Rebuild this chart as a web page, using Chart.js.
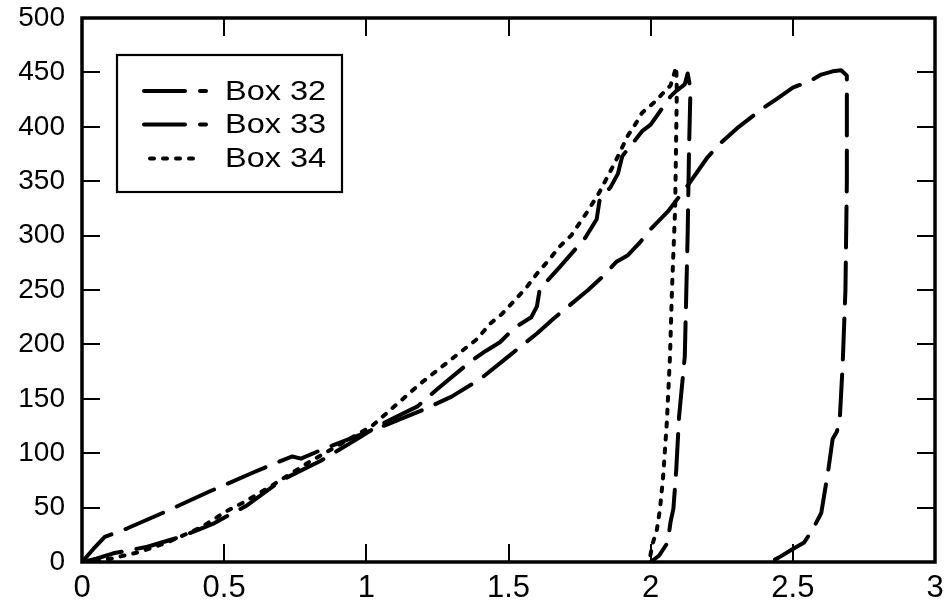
<!DOCTYPE html>
<html>
<head>
<meta charset="utf-8">
<script src="https://cdn.jsdelivr.net/npm/chart.js@4.4.1/dist/chart.umd.min.js"></script>
<style>
    html, body { margin: 0; padding: 0; background: #fff; }
    #wrap { width: 946px; height: 608px; }
</style>
</head>
<body>
<div id="wrap"><canvas id="chart" width="946" height="608"></canvas></div>
<script>
// Box 32 - long dash curve, peak near x = 2.68
const box32X = [0, 0.04, 0.08, 0.16, 0.3, 0.45, 0.6, 0.7, 0.74, 0.77, 0.85, 0.95, 1.05, 1.2, 1.3, 1.4, 1.5, 1.6, 1.66, 1.72,
    1.78, 1.83, 1.88, 1.92, 1.96, 2.0, 2.06, 2.13, 2.2, 2.25, 2.31, 2.36, 2.4, 2.44, 2.5, 2.56, 2.6, 2.64, 2.67, 2.69,
    2.69, 2.685, 2.675, 2.665, 2.655, 2.64, 2.625, 2.6, 2.57, 2.54, 2.5, 2.45, 2.42];
const box32Y = [0, 12, 23, 31, 47, 65, 82, 93, 97, 95, 104, 114, 124, 140, 152, 168, 189, 210, 224, 237,
    250, 262, 276, 282, 293, 306, 322, 346, 372, 386, 400, 410, 418, 425, 436, 442, 448, 451, 452, 447,
    350, 250, 180, 131, 120, 113, 85, 45, 30, 18, 12, 4, 0];

// Box 33 - long dash curve, peak near x = 2.13
const box33X = [0, 0.05, 0.11, 0.23, 0.345, 0.46, 0.58, 0.70, 0.84, 0.98, 1.04, 1.18, 1.25, 1.37, 1.42, 1.47, 1.52, 1.58, 1.60, 1.61,
    1.68, 1.72, 1.77, 1.81, 1.82, 1.86, 1.885, 1.90, 1.97, 2.0, 2.07, 2.09, 2.12, 2.13, 2.14,
    2.135, 2.13, 2.12, 2.10, 2.09, 2.08, 2.07, 2.06, 2.03, 2.0];
const box33Y = [0, 3, 8, 14, 23, 35, 52, 75, 93, 115, 125, 143, 159, 185, 194, 202, 215, 225, 235, 251,
    271, 283, 298, 315, 332, 345, 357, 373, 396, 402, 428, 433, 439, 449, 435,
    380, 300, 189, 134, 85, 49, 37, 18, 6, 0];

// Box 34 - dotted curve, peak near x = 2.09
const box34X = [0, 0.1, 0.2, 0.3, 0.42, 0.51, 0.57, 0.66, 0.8, 1.02, 1.19, 1.39, 1.435, 1.477, 1.52, 1.565, 1.60, 1.64, 1.68, 1.72,
    1.78, 1.82, 1.87, 1.92, 1.95, 1.97, 2.015, 2.04, 2.07, 2.09,
    2.092, 2.086, 2.075, 2.068, 2.057, 2.044, 2.033, 2.022, 2.005, 1.995];
const box34Y = [0, 3, 9, 18, 32, 47, 55, 69, 92, 125, 164, 205, 219, 228, 240, 253, 265, 277, 290, 300,
    323, 340, 365, 392, 404, 413, 423, 430, 438, 455,
    433, 324, 251, 189, 129, 79, 49, 30, 15, 0];

const seriesNames = ['Box 32', 'Box 33', 'Box 34'];
const xTickValues = [0, 0.5, 1, 1.5, 2, 2.5, 3];
const yTickValues = [0, 50, 100, 150, 200, 250, 300, 350, 400, 450, 500];

const FONT = 'Liberation Sans, Arial, sans-serif';

function toPoints(xs, ys) {
    return xs.map((x, i) => ({ x: x, y: ys[i] }));
}

// frame around the plot plus inward tick marks on all four sides
const frameAndTicks = {
    id: 'frameAndTicks',
    afterDraw(chart) {
        const ctx = chart.ctx;
        const a = chart.chartArea;
        const xs = chart.scales.x, ys = chart.scales.y;
        const len = 18;
        ctx.save();
        ctx.globalAlpha = 1;
        ctx.globalCompositeOperation = 'source-over';
        ctx.setLineDash([]);
        ctx.fillStyle = '#000';
        xTickValues.forEach(v => {
            const px = Math.round(xs.getPixelForValue(v));
            if (px <= a.left + 2 || px >= a.right - 2) return;
            ctx.fillRect(px - 1, a.bottom - len, 2, len);
            ctx.fillRect(px - 1, a.top, 2, len);
        });
        yTickValues.forEach(v => {
            const py = Math.round(ys.getPixelForValue(v));
            if (py <= a.top + 2 || py >= a.bottom - 2) return;
            ctx.fillRect(a.left, py - 1, len, 2);
            ctx.fillRect(a.right - len, py - 1, len, 2);
        });
        ctx.strokeStyle = '#000';
        ctx.lineWidth = 3.5;
        ctx.strokeRect(a.left, a.top, a.right - a.left, a.bottom - a.top);
        ctx.restore();
    }
};

// boxed legend sitting inside the plot, top left
const boxLegend = {
    id: 'boxLegend',
    afterDraw(chart) {
        const ctx = chart.ctx;
        const bx = 117, by = 55, bw = 225, bh = 137;
        ctx.save();
        ctx.fillStyle = '#fff';
        ctx.fillRect(bx, by, bw, bh);
        ctx.strokeStyle = '#000';
        ctx.lineWidth = 2.2;
        ctx.strokeRect(bx, by, bw, bh);

        const rows = [91, 124.5, 158.5];
        chart.data.datasets.forEach((ds, i) => {
            const yy = rows[i];
            ctx.save();
            ctx.strokeStyle = ds.borderColor;
            ctx.lineWidth = ds.borderWidth;
            ctx.lineCap = 'round';
            ctx.setLineDash(ds.borderDash);
            ctx.beginPath();
            if (i === 2) {
                ctx.moveTo(150, yy); ctx.lineTo(196, yy);
            } else {
                ctx.moveTo(144, yy); ctx.lineTo(206, yy);
            }
            ctx.stroke();
            ctx.restore();

            ctx.save();
            ctx.fillStyle = '#000';
            ctx.font = '28px ' + FONT;
            ctx.textBaseline = 'middle';
            ctx.translate(225, yy + 1);
            ctx.scale(1.16, 1);
            ctx.fillText(ds.label, 0, 0);
            ctx.restore();
        });
        ctx.restore();
    }
};

const commonLine = {
    borderColor: '#000',
    borderWidth: 4,
    borderCapStyle: 'round',
    borderJoinStyle: 'round',
    pointRadius: 0,
    showLine: true,
    fill: false,
    tension: 0
};

new Chart(document.getElementById('chart').getContext('2d'), {
    type: 'scatter',
    data: {
        datasets: [
            Object.assign({}, commonLine, { label: seriesNames[0], data: toPoints(box32X, box32Y), borderDash: [41, 15] }),
            Object.assign({}, commonLine, { label: seriesNames[1], data: toPoints(box33X, box33Y), borderDash: [41, 15] }),
            Object.assign({}, commonLine, { label: seriesNames[2], data: toPoints(box34X, box34Y), borderDash: [4, 9] })
        ]
    },
    options: {
        responsive: false,
        animation: false,
        devicePixelRatio: 1,
        layout: { padding: { top: 18, right: 11, left: 0, bottom: 0 } },
        plugins: {
            legend: { display: false },
            tooltip: { enabled: false }
        },
        scales: {
            x: {
                type: 'linear',
                min: 0,
                max: 3,
                afterBuildTicks: s => { s.ticks = xTickValues.map(v => ({ value: v })); },
                // fixed height, and no label overhang so the layout padding decides the edges
                afterFit: s => { s.height = 46; s.paddingLeft = 0; s.paddingRight = 0; },
                grid: { display: false, drawTicks: false },
                border: { display: false },
                ticks: {
                    color: '#000',
                    padding: 8,
                    font: { family: FONT, size: 31 },
                    maxRotation: 0,
                    callback: v => String(v)
                }
            },
            y: {
                type: 'linear',
                min: 0,
                max: 500,
                afterBuildTicks: s => { s.ticks = yTickValues.map(v => ({ value: v })); },
                afterFit: s => { s.width = 82; s.paddingTop = 0; s.paddingBottom = 0; },
                grid: { display: false, drawTicks: false },
                border: { display: false },
                ticks: {
                    color: '#000',
                    padding: 17,
                    font: { family: FONT, size: 28 },
                    callback: v => String(v)
                }
            }
        }
    },
    plugins: [frameAndTicks, boxLegend]
});
</script>
</body>
</html>
